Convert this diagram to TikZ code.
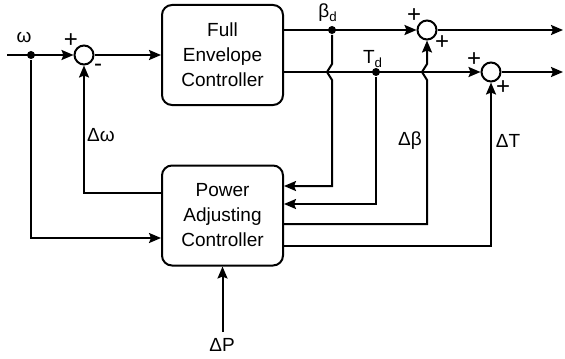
\documentclass[tikz,border=0pt]{standalone}
\usepackage{fontspec}
\setmainfont{Liberation Sans}
\usetikzlibrary{positioning,
                arrows.meta,                % arrow tips
                calc}                       % shifted label positions

\begin{document}
\begin{tikzpicture}[x=0.5pt, y=-0.5pt, line width=1pt,
        font=\fontsize{9.5}{12.5}\selectfont,
        block/.style={draw, rounded corners=5pt, minimum width=60.5pt,
                      minimum height=50pt, align=center, inner sep=2pt},
        sumnode/.style={draw, circle, minimum size=9.5pt, inner sep=0pt},
        dot/.style={circle, fill, minimum size=4pt, inner sep=0pt},
        arr/.style={-{Stealth[length=6pt, width=5pt, inset=1pt]}},
        sgn/.style={inner sep=0pt, font=\fontsize{12}{12}\selectfont}]
        \useasboundingbox (0,0) rectangle (565,358);

        % blocks and summing points
        \node[block] (fec) at (222.5,55) {Full\\Envelope\\Controller};
        \node[block] (pac) at (222.5,215.5) {Power\\Adjusting\\Controller};
        \node[sumnode] (s1) at (84,55) {};
        \node[sumnode] (s2) at (427,30) {};
        \node[sumnode] (s3) at (491,72) {};
        \node[dot] (dw) at (31,55) {};
        \node[dot] (db) at (332,30) {};
        \node[dot] (dt) at (376,72) {};
        \coordinate (in) at (7,55);
        \coordinate (o1) at (563,30);
        \coordinate (o2) at (563,72);
        \coordinate (dp) at (222.5,332);
        \coordinate (kb) at (332,72);
        \coordinate (kd) at (427,72);

        % labels
        \node (lw) at (24,37) {ω};
        \node (lb) at (328,13) {β\textsubscript{d}};
        \node (lt) at (373,59) {T\textsubscript{d}};
        \node (ldw) at (101,135) {Δω};
        \node (ldb) at (410,141) {Δβ};
        \node (ldt) at (508,141) {ΔT};
        \node (ldp) at (222,345) {ΔP};

        % signs
        \node[sgn] at ($(s1)+(-13,-14)$) {+};
        \node[sgn] at ($(s1)+(14,13)$) {-};
        \node[sgn] at ($(s2)+(-13,-14)$) {+};
        \node[sgn] at ($(s2)+(15,13)$) {+};
        \node[sgn] at ($(s3)+(-17,-12)$) {+};
        \node[sgn] at ($(s3)+(12,16)$) {+};

        % signal lines
        \draw[arr] (in) -- (s1);
        \draw[arr] (s1) -- (fec);
        \draw[arr] (dw) |- ([yshift=-11.25pt]pac.west);
        \draw[arr] ([yshift=11.25pt]pac.west) -| (s1);
        \draw[arr] ([yshift=12.5pt]fec.east) -- (s2);
        \draw[arr] ([yshift=-8.5pt]fec.east) -- (s3);
        \draw[arr] (s2) -- (o1);
        \draw[arr] (s3) -- (o2);
        \draw[arr] (db) -- ([yshift=4pt]kb) -- ([xshift=-2.5pt]kb)
                -- ([yshift=-4pt]kb) |- ([yshift=14.75pt]pac.east);
        \draw[arr] (dt) |- ([yshift=5.75pt]pac.east);
        \draw[arr] ([yshift=-4.25pt]pac.east) -| ([yshift=-4pt]kd)
                -- ([xshift=-2.5pt]kd) -- ([yshift=4pt]kd) -- (s2);
        \draw[arr] ([yshift=-15.25pt]pac.east) -| (s3);
        \draw[arr] (dp) -- (pac);
\end{tikzpicture}
\end{document}
